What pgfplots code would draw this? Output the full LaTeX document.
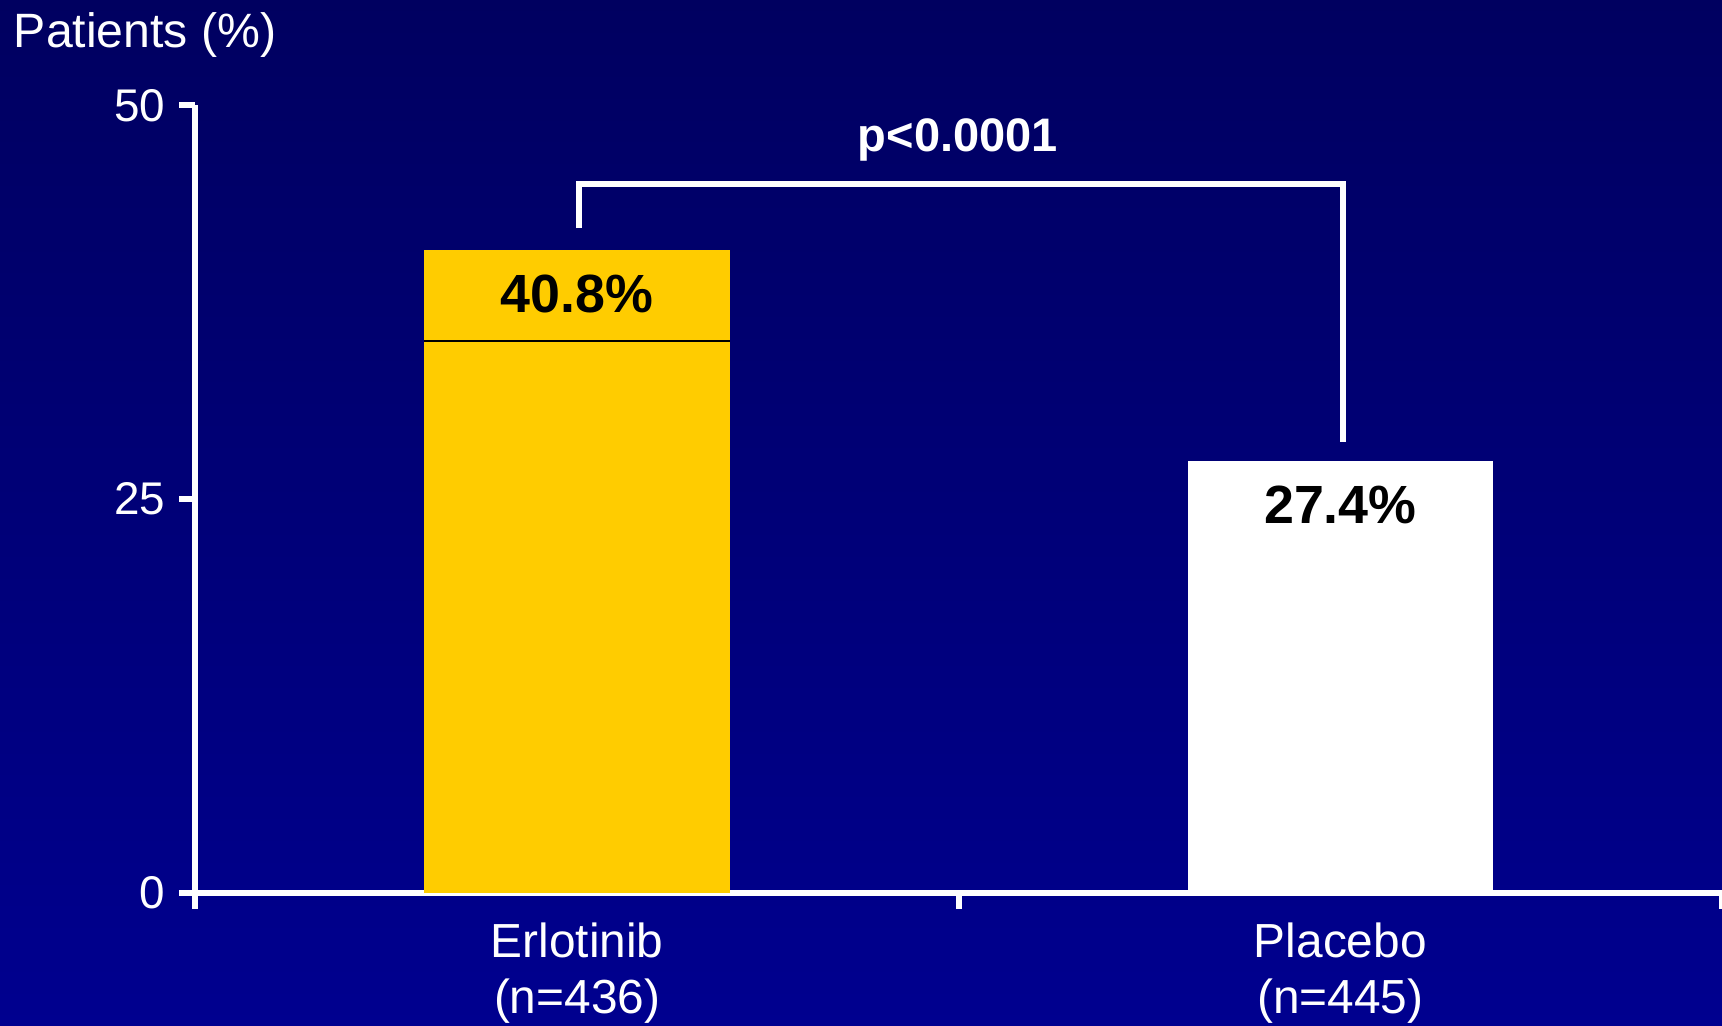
\documentclass[border=0pt]{standalone}
\usepackage{pgfplots}
\pgfplotsset{compat=1.18}
\usepackage{fontspec}
\setmainfont{Liberation Sans}

\definecolor{bgtop}{RGB}{0,0,96}
\definecolor{bgbottom}{RGB}{0,0,143}
\definecolor{barYellow}{RGB}{255,204,0}

\begin{document}
\begin{tikzpicture}
% slide background
\fill[top color=bgtop, bottom color=bgbottom] (-48.88bp,-33.23bp) rectangle (381.7bp,223.25bp);

\begin{axis}[
  at={(0,0)}, anchor=origin,
  scale only axis,
  width=381.7bp, height=196.9bp,
  xmin=0, xmax=2, ymin=0, ymax=50,
  axis lines=left,
  axis line style={-, white, line width=1.5bp},
  tick style={white, line width=1.5bp},
  tick align=outside,
  major tick length=4bp,
  ytick={0,25,50},
  xtick={0,1,2},
  xticklabels={,,},
  extra x ticks={0.5,1.5},
  extra x tick labels={Erlotinib\\(n=436), Placebo\\(n=445)},
  extra x tick style={major tick length=0pt,
    xticklabel style={align=center, font=\fontsize{12}{14}\selectfont, text=white, yshift=-4bp}},
  yticklabel style={font=\fontsize{11.5}{14}\selectfont, text=white},
  /pgf/number format/assume math mode=true,
  clip=false,
  ybar, bar width=0.4, bar shift=0pt,
  nodes near coords={\pgfmathprintnumber[fixed, fixed zerofill, precision=1]{\pgfplotspointmeta}\%},
  every node near coord/.append style={anchor=center, yshift=-11bp, font=\fontsize{13.5}{16}\selectfont\bfseries, text=black},
]
\addplot[fill=barYellow, draw=none] coordinates {(0.5,40.8)};
\addplot[fill=white, draw=none] coordinates {(1.5,27.4)};

% thin rule across the Erlotinib bar
\draw[black, line width=0.35bp] (axis cs:0.3,35.05) -- (axis cs:0.7,35.05);

% significance bracket
\draw[white, line width=1.5bp] (axis cs:0.503,42.2) -- (axis cs:0.503,45.0) -- (axis cs:1.504,45.0) -- (axis cs:1.504,28.6);
\node[text=white, font=\fontsize{11.8}{14}\selectfont\bfseries] at (axis cs:0.999,47.8) {p<0.0001};
\end{axis}

\node[anchor=base west, text=white, inner sep=0pt, font=\fontsize{12.1}{14}\selectfont] at (-45.6bp,211.4bp) {Patients (\%)};

\pgfresetboundingbox
\path (-48.88bp,-33.23bp) rectangle (381.7bp,223.25bp);
\end{tikzpicture}
\end{document}
